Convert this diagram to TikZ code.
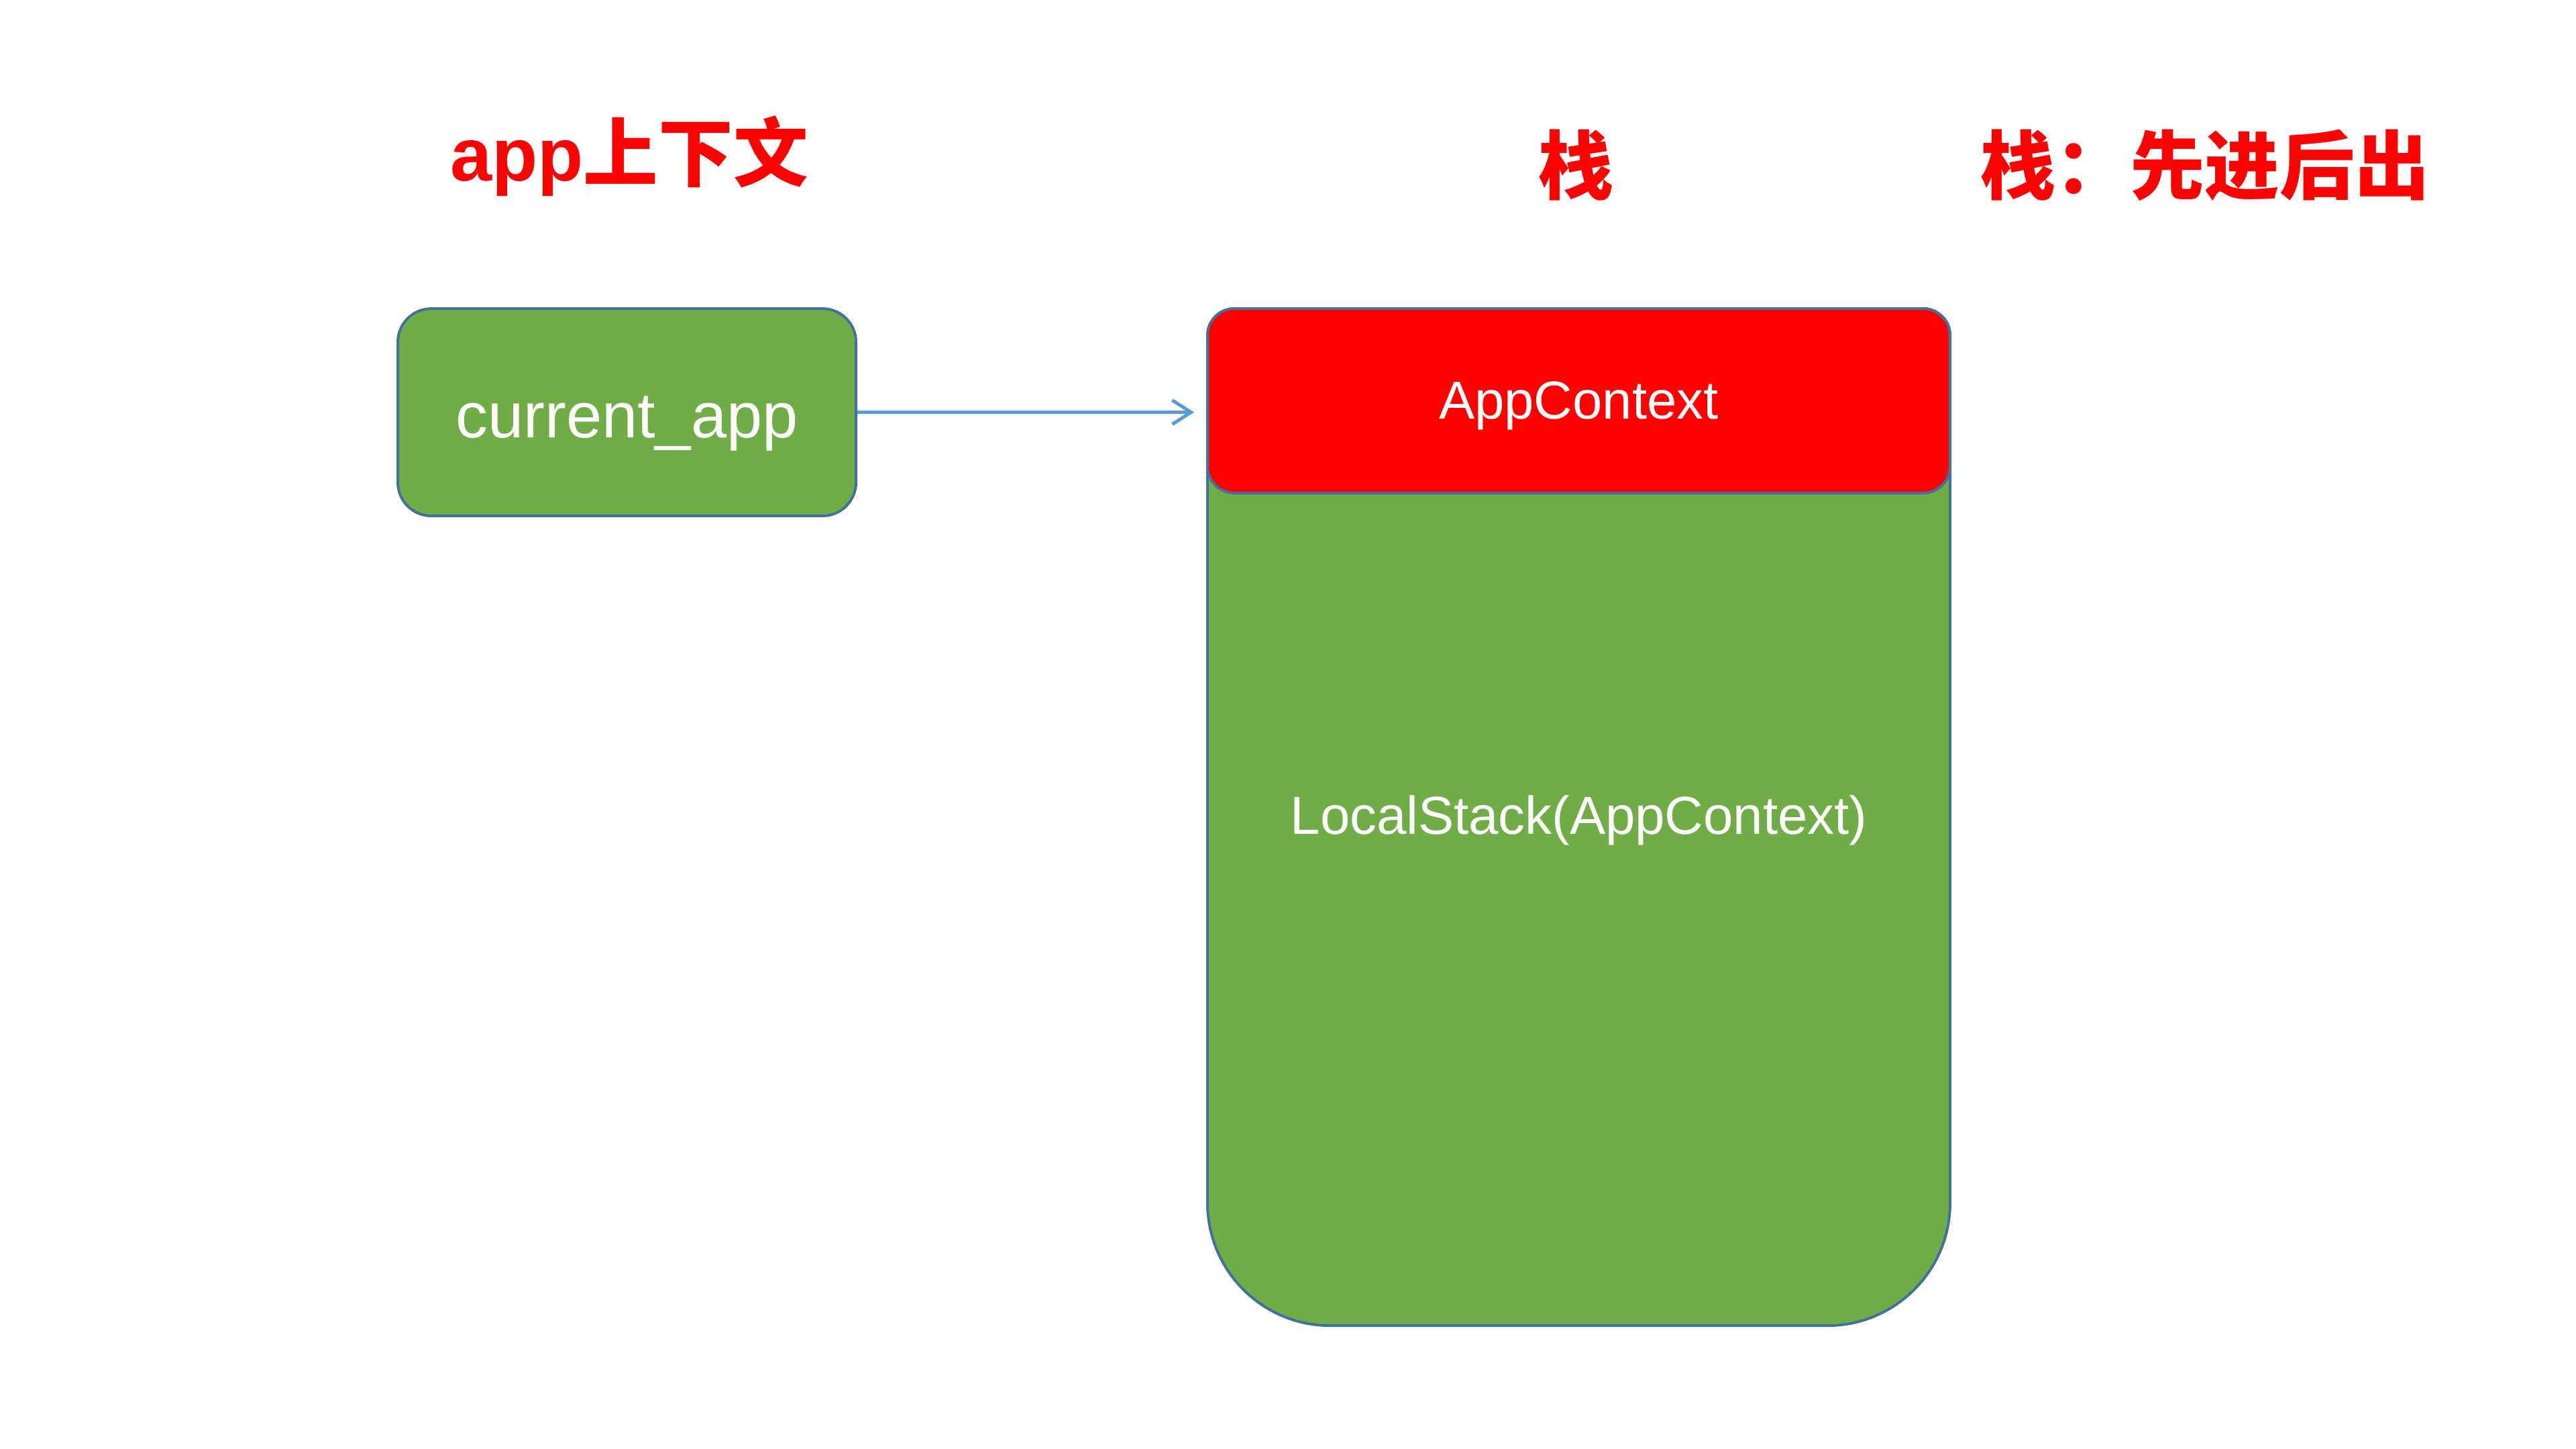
\documentclass[tikz,border=0pt]{standalone}
\usepackage{fontspec}
\setmainfont{Liberation Sans}
\newfontfamily\cjk{Noto Sans CJK SC}
\usetikzlibrary{arrows.meta,positioning}
\definecolor{boxgreen}{HTML}{70AD47}
\definecolor{edgeblue}{HTML}{41719C}
\definecolor{linkblue}{HTML}{5B9BD5}

\begin{document}
\begin{tikzpicture}[
  >={Straight Barb[length=7pt,width=9pt]},
  box/.style={draw=edgeblue, line width=1pt, text=white, align=center,
              inner sep=0pt},
  small/.style={font=\fontsize{20}{24}\selectfont, text height=17pt,
                text depth=3.6pt},
  title/.style={text=red, font=\fontsize{28}{34}\selectfont\bfseries,
                anchor=base},
  link/.style={->, draw=linkblue, line width=1.25pt}
]
  \useasboundingbox (0,0) rectangle (33.867,-19.05);

  % stack body: small top corners, large bottom corners
  \draw[edgeblue, line width=1pt, fill=boxgreen]
    (15.875,-4.41) -- (15.875,-15.814)
    arc[start angle=180, end angle=270, radius=1.614] -- (24.024,-17.428)
    arc[start angle=270, end angle=360, radius=1.614] -- (25.638,-4.41)
    arc[start angle=0, end angle=90, radius=0.353] -- (16.228,-4.057)
    arc[start angle=90, end angle=180, radius=0.353] -- cycle;

  \node[box, small, fill=red, rounded corners=0.353cm, minimum width=9.763cm,
        minimum height=2.425cm]
    (ctx) at (20.756,-5.270) {AppContext};
  \node[small, text=white] (stk) at (20.756,-10.733) {LocalStack(AppContext)};
  \node[box, fill=boxgreen, rounded corners=0.441cm, minimum width=6.024cm,
        minimum height=2.725cm, font=\fontsize{24}{29}\selectfont,
        text height=22pt, text depth=3pt]
    (app) at (8.242,-5.420) {current\_app};

  \draw[link, shorten >=4.5pt] (app.east) -- (app.east -| ctx.west);

  \node[title] (apptitle) at (8.273,-2.381) {app\cjk 上下文};
  \node[title] (stacktitle) at (20.717,-2.540) {\cjk 栈};
  \node[title] (fifotitle) at (28.989,-2.540) {\cjk 栈：先进后出};
\end{tikzpicture}
\end{document}
